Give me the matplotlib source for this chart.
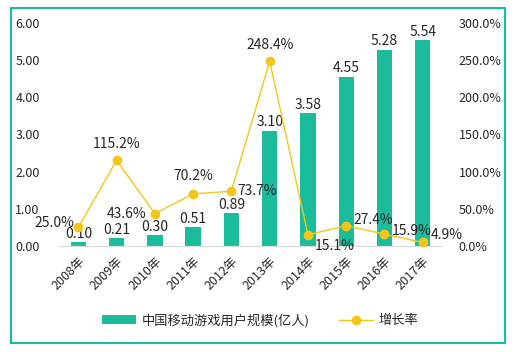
import matplotlib
matplotlib.use("Agg")
import matplotlib.pyplot as plt
from matplotlib.patches import Rectangle
from matplotlib.ticker import FuncFormatter

plt.rcParams['font.family'] = ['Noto Sans CJK SC', 'DejaVu Sans']

years = ["2008年", "2009年", "2010年", "2011年", "2012年",
         "2013年", "2014年", "2015年", "2016年", "2017年"]
users = [0.10, 0.21, 0.30, 0.51, 0.89, 3.10, 3.58, 4.55, 5.28, 5.54]
growth = [25.0, 115.2, 43.6, 70.2, 73.7, 248.4, 15.1, 27.4, 15.9, 4.9]

BAR = "#1BBC9B"
LINE = "#F5C518"
TXT = "#262626"

# label offsets (points) and alignment for the growth-rate labels
growth_pos = [(-3, 3, "right"), (0, 7, "center"), (-6, 0, "right"),
              (0, 8, "center"), (4, 0, "left"), (0, 7, "center"),
              (5, -8, "left"), (5, 4, "left"), (5, 2, "left"), (6, 5, "left")]

fig = plt.figure(figsize=(5.15, 3.52), dpi=100)
ax = fig.add_axes([0.115, 0.301, 0.743, 0.634])
ax2 = ax.twinx()

x = range(len(years))
bars = ax.bar(x, users, width=0.4, color=BAR, zorder=2, label="中国移动游戏用户规模(亿人)")
for xi, v in zip(x, users):
    ax.annotate(f"{v:.2f}", (xi, v), xytext=(0, 1), textcoords="offset points",
                ha="center", va="bottom", fontsize=10, color=TXT)

ax2.plot(x, growth, color=LINE, lw=1, marker="o", ms=6, zorder=3, label="增长率")
for xi, g, (dx, dy, ha) in zip(x, growth, growth_pos):
    va = "bottom" if dy > 3 and ha == "center" else "center"
    ax2.annotate(f"{g:.1f}%", (xi, g), xytext=(dx, dy), textcoords="offset points",
                 ha=ha, va=va, fontsize=10, color=TXT)

ax.set_ylim(0, 6)
ax.set_yticks([0, 1, 2, 3, 4, 5, 6])
ax.yaxis.set_major_formatter(FuncFormatter(lambda v, p: f"{v:.2f}"))
ax2.set_ylim(0, 300)
ax2.set_yticks([0, 50, 100, 150, 200, 250, 300])
ax2.yaxis.set_major_formatter(FuncFormatter(lambda v, p: f"{v:.1f}%"))
ax.set_xlim(-0.5, len(years) - 0.5)
ax.set_xticks(list(x))
ax.set_xticklabels(years, rotation=45, ha="right", rotation_mode="anchor")

for a in (ax, ax2):
    for s in ("top", "left", "right"):
        a.spines[s].set_visible(False)
    a.spines["bottom"].set_color("#d9d9d9")
    a.tick_params(length=0, labelsize=9, colors=TXT)
ax.tick_params(axis="y", pad=14)
ax2.tick_params(axis="y", pad=12)
ax.tick_params(axis="x", pad=6)

h1, l1 = ax.get_legend_handles_labels()
h2, l2 = ax2.get_legend_handles_labels()
fig.legend(h1 + h2, l1 + l2, loc="center", bbox_to_anchor=(0.505, 0.09), ncol=2,
           frameon=False, fontsize=9.5, handlelength=2.6, handletextpad=0.4,
           columnspacing=2.2, labelcolor=TXT)

fig.patches.append(Rectangle((11 / 515, 1 - 343 / 352), 494 / 515, 335 / 352,
                             transform=fig.transFigure, fill=False,
                             edgecolor=BAR, lw=1.5))

fig.savefig("out.png", dpi=100, facecolor="white")
